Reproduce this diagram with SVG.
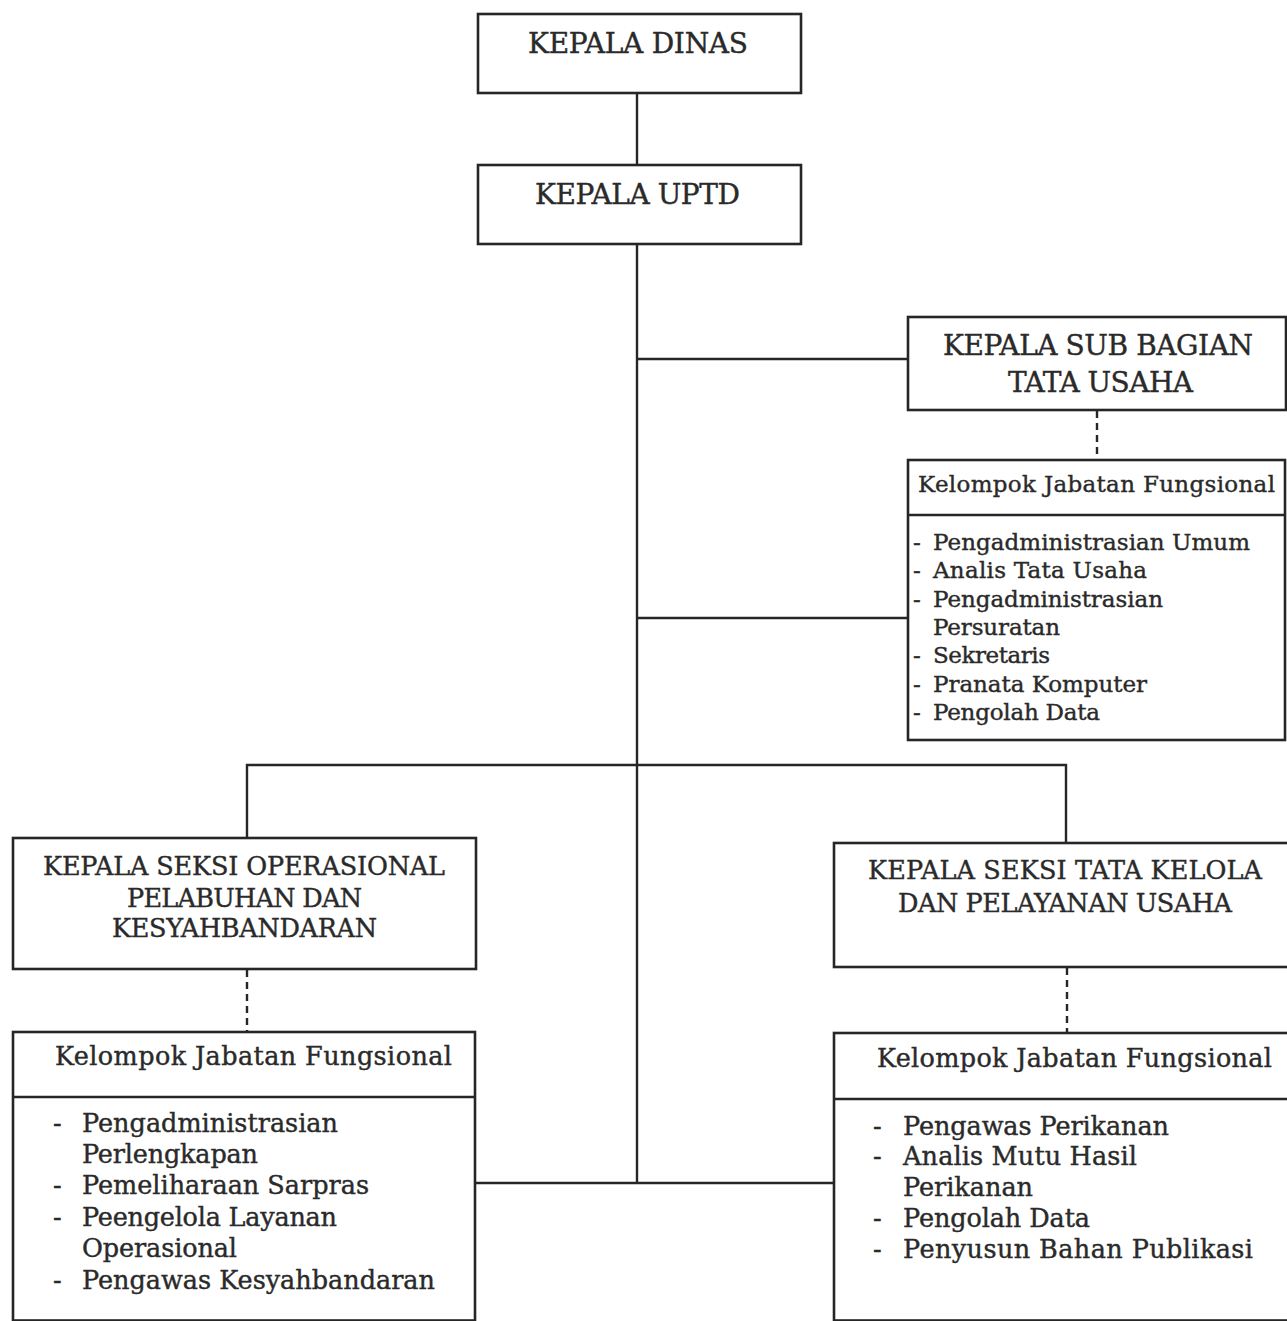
<svg xmlns="http://www.w3.org/2000/svg" width="1287" height="1321" viewBox="0 0 1287 1321">
<style>
.box{fill:#fff;stroke:#262626;stroke-width:2.6}
.ln{fill:none;stroke:#262626;stroke-width:2.4}
.dash{fill:none;stroke:#262626;stroke-width:2.4;stroke-dasharray:7 5}
text{font-family:"DejaVu Serif","Liberation Serif",serif;fill:#2a2a2a;stroke:#2a2a2a;stroke-width:0.4}
.h1{font-size:28px}
.h2{font-size:25.5px}
.t1{font-size:23px}
.t2{font-size:25.5px}
</style>
<rect width="1287" height="1321" fill="#fff"/>
<g id="connectors">
<line class="ln" x1="637" y1="93" x2="637" y2="165"/>
<line class="ln" x1="637" y1="244" x2="637" y2="1183"/>
<line class="ln" x1="637" y1="359" x2="908" y2="359"/>
<line class="ln" x1="637" y1="618" x2="908" y2="618"/>
<polyline class="ln" points="247,838 247,765 1066,765 1066,843"/>
<line class="ln" x1="475" y1="1183" x2="834" y2="1183"/>
<line class="dash" x1="1097" y1="411" x2="1097" y2="459"/>
<line class="dash" x1="247" y1="970" x2="247" y2="1031"/>
<line class="dash" x1="1067" y1="968" x2="1067" y2="1033"/>
</g>
<g id="kepala-dinas">
<rect class="box" x="478" y="14" width="323" height="79"/>
<text class="h1" x="528" y="53" textLength="220">KEPALA DINAS</text>
</g>
<g id="kepala-uptd">
<rect class="box" x="478" y="165" width="323" height="79"/>
<text class="h1" x="535" y="204" textLength="205">KEPALA UPTD</text>
</g>
<g id="sub-bagian-tu">
<rect class="box" x="908" y="317" width="378" height="93"/>
<text class="h1" x="943" y="355" textLength="310">KEPALA SUB BAGIAN</text>
<text class="h1" x="1008" y="392" textLength="185">TATA USAHA</text>
</g>
<g id="jf-tata-usaha">
<rect class="box" x="908" y="460" width="377" height="280"/>
<line class="ln" x1="908" y1="515" x2="1285" y2="515"/>
<text class="t1" x="918" y="492" textLength="357">Kelompok Jabatan Fungsional</text>
<text class="t1" x="913" y="550">-</text><text class="t1" x="933" y="550" textLength="317">Pengadministrasian Umum</text>
<text class="t1" x="913" y="578">-</text><text class="t1" x="933" y="578" textLength="214">Analis Tata Usaha</text>
<text class="t1" x="913" y="607">-</text><text class="t1" x="933" y="607" textLength="230">Pengadministrasian</text>
<text class="t1" x="933" y="635" textLength="127">Persuratan</text>
<text class="t1" x="913" y="663">-</text><text class="t1" x="933" y="663" textLength="117">Sekretaris</text>
<text class="t1" x="913" y="692">-</text><text class="t1" x="933" y="692" textLength="214">Pranata Komputer</text>
<text class="t1" x="913" y="720">-</text><text class="t1" x="933" y="720" textLength="167">Pengolah Data</text>
</g>
<g id="seksi-operasional">
<rect class="box" x="13" y="838" width="463" height="131"/>
<text class="h2" x="43" y="875" textLength="402">KEPALA SEKSI OPERASIONAL</text>
<text class="h2" x="127" y="907" textLength="235">PELABUHAN DAN</text>
<text class="h2" x="112" y="937" textLength="265">KESYAHBANDARAN</text>
</g>
<g id="seksi-tata-kelola">
<rect class="box" x="834" y="843" width="460" height="124"/>
<text class="h2" x="868" y="879" textLength="394">KEPALA SEKSI TATA KELOLA</text>
<text class="h2" x="898" y="912" textLength="334">DAN PELAYANAN USAHA</text>
</g>
<g id="jf-operasional">
<rect class="box" x="13" y="1032" width="462" height="288.5"/>
<line class="ln" x1="13" y1="1097" x2="475" y2="1097"/>
<text class="t2" x="55" y="1065" textLength="397">Kelompok Jabatan Fungsional</text>
<text class="t2" x="53" y="1132">-</text><text class="t2" x="82" y="1132" textLength="256">Pengadministrasian</text>
<text class="t2" x="82" y="1163" textLength="176">Perlengkapan</text>
<text class="t2" x="53" y="1194">-</text><text class="t2" x="82" y="1194" textLength="287">Pemeliharaan Sarpras</text>
<text class="t2" x="53" y="1226">-</text><text class="t2" x="82" y="1226" textLength="255">Peengelola Layanan</text>
<text class="t2" x="82" y="1257" textLength="155">Operasional</text>
<text class="t2" x="53" y="1289">-</text><text class="t2" x="82" y="1289" textLength="353">Pengawas Kesyahbandaran</text>
</g>
<g id="jf-tata-kelola">
<rect class="box" x="834" y="1033" width="460" height="287.5"/>
<line class="ln" x1="834" y1="1099" x2="1294" y2="1099"/>
<text class="t2" x="877" y="1067" textLength="395">Kelompok Jabatan Fungsional</text>
<text class="t2" x="873" y="1135">-</text><text class="t2" x="903" y="1135" textLength="266">Pengawas Perikanan</text>
<text class="t2" x="873" y="1165">-</text><text class="t2" x="903" y="1165" textLength="234">Analis Mutu Hasil</text>
<text class="t2" x="903" y="1196" textLength="130">Perikanan</text>
<text class="t2" x="873" y="1227">-</text><text class="t2" x="903" y="1227" textLength="187">Pengolah Data</text>
<text class="t2" x="873" y="1258">-</text><text class="t2" x="903" y="1258" textLength="350">Penyusun Bahan Publikasi</text>
</g>
</svg>
